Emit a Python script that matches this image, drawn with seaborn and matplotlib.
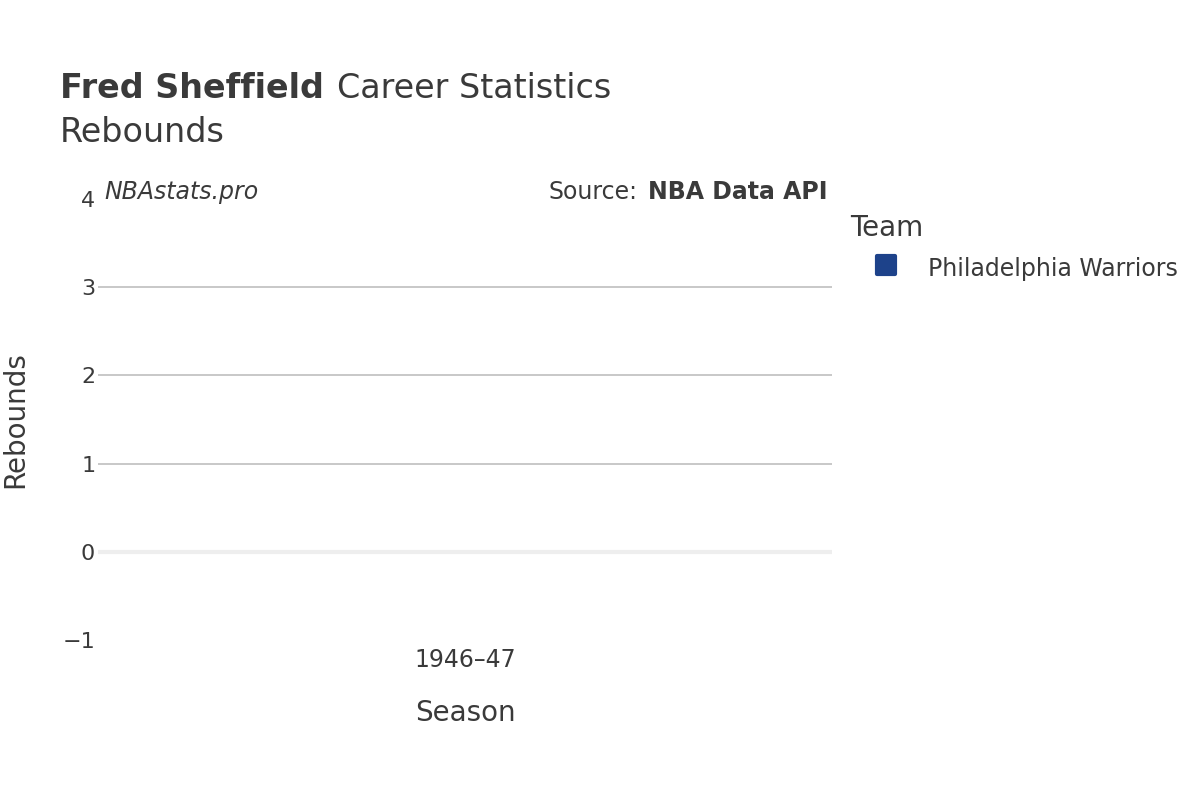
import pandas as pd
import matplotlib
matplotlib.use("Agg")
import matplotlib.pyplot as plt
from matplotlib.lines import Line2D
from matplotlib.markers import MarkerStyle
import seaborn as sns

# Data
seasons = ["1946–47"]
teams = ["Philadelphia Warriors"]
rebounds = [0]
team_colors = {"Philadelphia Warriors": "#1D428A"}

df = pd.DataFrame({"Season": seasons, "Team": teams, "Rebounds": rebounds})

sns.set_theme(style="white")
plt.rcParams["font.family"] = ["DejaVu Sans"]
text_color = "#3a3a3a"

fig = plt.figure(figsize=(12, 8), dpi=100)
ax = fig.add_axes([98 / 1200, 1 - 640 / 800, (832 - 98) / 1200, (640 - 199) / 800])

sns.barplot(data=df, x="Season", y="Rebounds", hue="Team",
            palette=team_colors, ax=ax, legend=False, linewidth=0)

ax.set_ylim(-1, 4)
ax.set_yticks([-1, 0, 1, 2, 3, 4])
ax.set_yticklabels(["−1", "0", "1", "2", "3", "4"])
for y in [1, 2, 3]:
    ax.axhline(y, color="#c4c4c4", lw=1.3, zorder=0)
ax.axhline(0, color="#eeeeee", lw=3, zorder=0)

for s in ax.spines.values():
    s.set_visible(False)
ax.tick_params(axis="both", length=0, labelsize=16, colors=text_color)
ax.tick_params(axis="x", labelsize=17, pad=6)
ax.tick_params(axis="y", pad=2)

ax.set_xlabel("Season", fontsize=20, color=text_color)
ax.set_ylabel("Rebounds", fontsize=20, color=text_color)
ax.xaxis.set_label_coords(0.5, -0.134)
ax.yaxis.set_label_coords(-0.094, 0.5)

# Titles
fig.canvas.draw()
r = fig.canvas.get_renderer()
t1 = fig.text(60 / 1200, 1 - 89 / 800, "Fred Sheffield", fontsize=24, fontweight="bold",
              color=text_color, va="center", ha="left")
w = t1.get_window_extent(renderer=r)
fig.text((w.x1 + 13) / 1200, 1 - 89 / 800, "Career Statistics", fontsize=24,
         color=text_color, va="center", ha="left")
fig.text(60 / 1200, 1 - 133 / 800, "Rebounds", fontsize=24,
         color=text_color, va="center", ha="left")

# Annotations
fig.text(104 / 1200, 1 - 192 / 800, "NBAstats.pro", fontsize=17, style="italic",
         color=text_color, va="center", ha="left")
fig.text(828 / 1200, 1 - 192 / 800, "NBA Data API", fontsize=17, fontweight="bold",
         color=text_color, va="center", ha="right")
fig.text(638 / 1200, 1 - 192 / 800, "Source:", fontsize=17,
         color=text_color, va="center", ha="right")

# Legend
mk = MarkerStyle("s", joinstyle="round")
handles = [Line2D([0], [0], marker=mk, linestyle="", markersize=13, markeredgewidth=3,
                  markerfacecolor=team_colors[t], markeredgecolor=team_colors[t])
           for t in teams]
leg = fig.legend(handles, teams, title="Team", loc="upper left",
                 bbox_to_anchor=(841 / 1200, 1 - 205 / 800), frameon=False,
                 fontsize=17, title_fontsize=20, handlelength=3.0, handletextpad=0.3,
                 handleheight=1.4, alignment="left", borderaxespad=0)
for t in leg.get_texts():
    t.set_color(text_color)
leg.get_title().set_color(text_color)

plt.savefig("out.png", dpi=100)
